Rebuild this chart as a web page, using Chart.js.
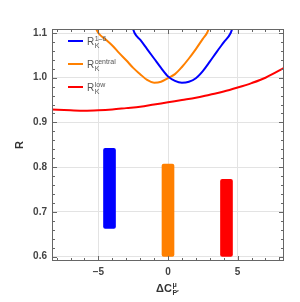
<!DOCTYPE html>
<html lang="en">
<head>
<meta charset="UTF-8">
<title>R_K vs ΔC</title>
<script src="https://cdn.jsdelivr.net/npm/chart.js"></script>
<style>
  html, body { margin: 0; padding: 0; background: #fff; }
  .chart-box { width: 300px; height: 302px; }
</style>
</head>
<body>
<div class="chart-box"><canvas id="rkChart"></canvas></div>
<script>
// R_K^{1-6} curve
const blueX = [-2.6, -2.4, -2.0, -1.5, -1.0, -0.5, 0, 0.5, 1.0, 1.5, 2.0, 2.5, 3.0, 3.5, 4.0, 4.5, 4.7];
const blueY = [1.118, 1.100, 1.085, 1.064, 1.043, 1.022, 1.003, 0.993, 0.989, 0.991, 0.999, 1.015, 1.036, 1.058, 1.079, 1.100, 1.118];

// R_K^{central}
const orangeX = [-5.3, -5.0, -4.5, -4.0, -3.5, -3.0, -2.5, -2.0, -1.5, -1.0, -0.5, 0, 0.5, 1.0, 1.5, 2.0, 2.5, 2.8, 3.0];
const orangeY = [1.118, 1.100, 1.086, 1.072, 1.055, 1.039, 1.022, 1.008, 0.995, 0.989, 0.991, 0.999, 1.008, 1.024, 1.043, 1.064, 1.087, 1.100, 1.115];

// R_K^{low}
const redX = [-8.4, -7, -6, -5, -4, -3, -2, -1, 0, 1, 2, 3, 4, 5, 6, 7, 8.4];
const redY = [0.929, 0.927, 0.926, 0.927, 0.929, 0.932, 0.935, 0.940, 0.945, 0.950, 0.955, 0.962, 0.969, 0.978, 0.988, 1.000, 1.023];

// measured ranges (vertical bands)
const bandX = [-4.2, 0, 4.2];
const bandLow = [0.663, 0.600, 0.600];
const bandHigh = [0.842, 0.807, 0.7725];

const xTicks = [-8, -7, -6, -5, -4, -3, -2, -1, 0, 1, 2, 3, 4, 5, 6, 7, 8];
const yTicks = [];
for (let i = 60; i <= 110; i += 2) yTicks.push(i / 100);

const BLUE = '#0000ff', ORANGE = '#ff8000', RED = '#ff0000';

const toPts = (xs, ys) => xs.map((v, i) => ({ x: v, y: ys[i] }));
const xMajor = v => Math.abs(v % 5) < 1e-9;
const yMajor = v => Math.round(v * 100) % 10 === 0;

// inward frame ticks, mathematica style
const framePlugin = {
    id: 'frame',
    afterDraw(chart) {
        const { ctx, chartArea: { left, right, top, bottom }, scales: { x, y } } = chart;
        ctx.save();
        ctx.strokeStyle = '#666';
        ctx.lineWidth = 1;
        ctx.strokeRect(left + 0.5, top + 0.5, right - left - 1, bottom - top - 1);
        ctx.beginPath();
        x.ticks.forEach(t => {
            const px = Math.round(x.getPixelForValue(t.value)) + 0.5;
            const len = xMajor(t.value) ? 5 : 3;
            ctx.moveTo(px, bottom); ctx.lineTo(px, bottom - len);
            ctx.moveTo(px, top); ctx.lineTo(px, top + len);
        });
        y.ticks.forEach(t => {
            const py = Math.round(y.getPixelForValue(t.value)) + 0.5;
            const len = yMajor(t.value) ? 5 : 3;
            ctx.moveTo(left, py); ctx.lineTo(left + len, py);
            ctx.moveTo(right, py); ctx.lineTo(right - len, py);
        });
        ctx.stroke();
        ctx.restore();
    }
};

// text with a sub- and superscript stacked after it
function scriptText(ctx, x, y, base, sub, sup, size, weight, color) {
    ctx.fillStyle = color;
    ctx.textBaseline = 'alphabetic';
    ctx.textAlign = 'left';
    ctx.font = weight + ' ' + size + 'px "Liberation Sans", Arial, sans-serif';
    ctx.fillText(base, x, y);
    const w = ctx.measureText(base).width;
    const small = Math.round(size * 0.68);
    ctx.font = weight + ' ' + small + 'px "Liberation Sans", Arial, sans-serif';
    ctx.fillText(sub, x + w + 0.5, y + size * 0.3);
    ctx.fillText(sup, x + w + 0.5, y - size * 0.42);
}

const labelsPlugin = {
    id: 'labels',
    afterDraw(chart) {
        const ctx = chart.ctx;
        ctx.save();
        // legend
        const rows = [
            { color: BLUE, sup: '1\u20136', y: 41 },
            { color: ORANGE, sup: 'central', y: 64 },
            { color: RED, sup: 'low', y: 87 }
        ];
        rows.forEach(r => {
            ctx.strokeStyle = r.color;
            ctx.lineWidth = 2;
            ctx.beginPath();
            ctx.moveTo(68, r.y); ctx.lineTo(83, r.y);
            ctx.stroke();
            scriptText(ctx, 87, r.y + 4, 'R', 'K', r.sup, 10, 'normal', '#555');
        });
        // x title
        ctx.font = 'bold 11px "Liberation Sans", Arial, sans-serif';
        const w = ctx.measureText('\u0394C').width;
        scriptText(ctx, 168 - w / 2 - 4, 292, '\u0394C', 'P\u2032', '\u03bc', 11, 'bold', '#333');
        ctx.restore();
    }
};

new Chart(document.getElementById('rkChart'), {
    type: 'line',
    data: {
        datasets: [
            {
                type: 'bar',
                data: bandX.map((v, i) => ({ x: v, y: [bandLow[i], bandHigh[i]] })),
                backgroundColor: [BLUE, ORANGE, RED],
                barThickness: 12,
                borderRadius: 2,
                borderSkipped: false
            },
            {
                data: toPts(blueX, blueY),
                borderColor: BLUE, borderWidth: 2, pointRadius: 0,
                cubicInterpolationMode: 'monotone'
            },
            {
                data: toPts(orangeX, orangeY),
                borderColor: ORANGE, borderWidth: 2, pointRadius: 0,
                cubicInterpolationMode: 'monotone'
            },
            {
                data: toPts(redX, redY),
                borderColor: RED, borderWidth: 2, pointRadius: 0,
                cubicInterpolationMode: 'monotone'
            }
        ]
    },
    options: {
        responsive: true,
        maintainAspectRatio: false,
        animation: false,
        layout: { padding: { top: 29, right: 16, bottom: 0, left: 0 } },
        plugins: { legend: { display: false }, tooltip: { enabled: false } },
        scales: {
            x: {
                type: 'linear',
                min: -8.33, max: 8.33,
                offset: false,
                grid: {
                    offset: false,
                    drawTicks: false,
                    color: c => (c.tick && xMajor(c.tick.value)) ? '#e3e3e3' : 'rgba(0,0,0,0)'
                },
                border: { display: false },
                afterBuildTicks: s => { s.ticks = xTicks.map(v => ({ value: v })); },
                afterFit: s => { s.height = 41; },
                ticks: {
                    autoSkip: false, maxRotation: 0, padding: 5,
                    color: '#444',
                    font: { size: 10, weight: 'bold', family: '"Liberation Sans", Arial, sans-serif' },
                    callback: v => xMajor(v) ? (v < 0 ? '\u2212' + Math.abs(v) : String(v)) : ''
                }
            },
            y: {
                type: 'linear',
                min: 0.59, max: 1.109,
                grid: {
                    drawTicks: false,
                    color: c => (c.tick && yMajor(c.tick.value)) ? '#e3e3e3' : 'rgba(0,0,0,0)'
                },
                border: { display: false },
                afterBuildTicks: s => { s.ticks = yTicks.map(v => ({ value: v })); },
                afterFit: s => { s.width = 52; },
                title: {
                    display: true, text: 'R', color: '#333',
                    font: { size: 11, weight: 'bold', family: '"Liberation Sans", Arial, sans-serif' },
                    padding: { top: 13 }
                },
                ticks: {
                    autoSkip: false, padding: 5,
                    color: '#444',
                    font: { size: 10, weight: 'bold', family: '"Liberation Sans", Arial, sans-serif' },
                    callback: v => yMajor(v) ? v.toFixed(1) : ''
                }
            }
        }
    },
    plugins: [framePlugin, labelsPlugin]
});
</script>
</body>
</html>
